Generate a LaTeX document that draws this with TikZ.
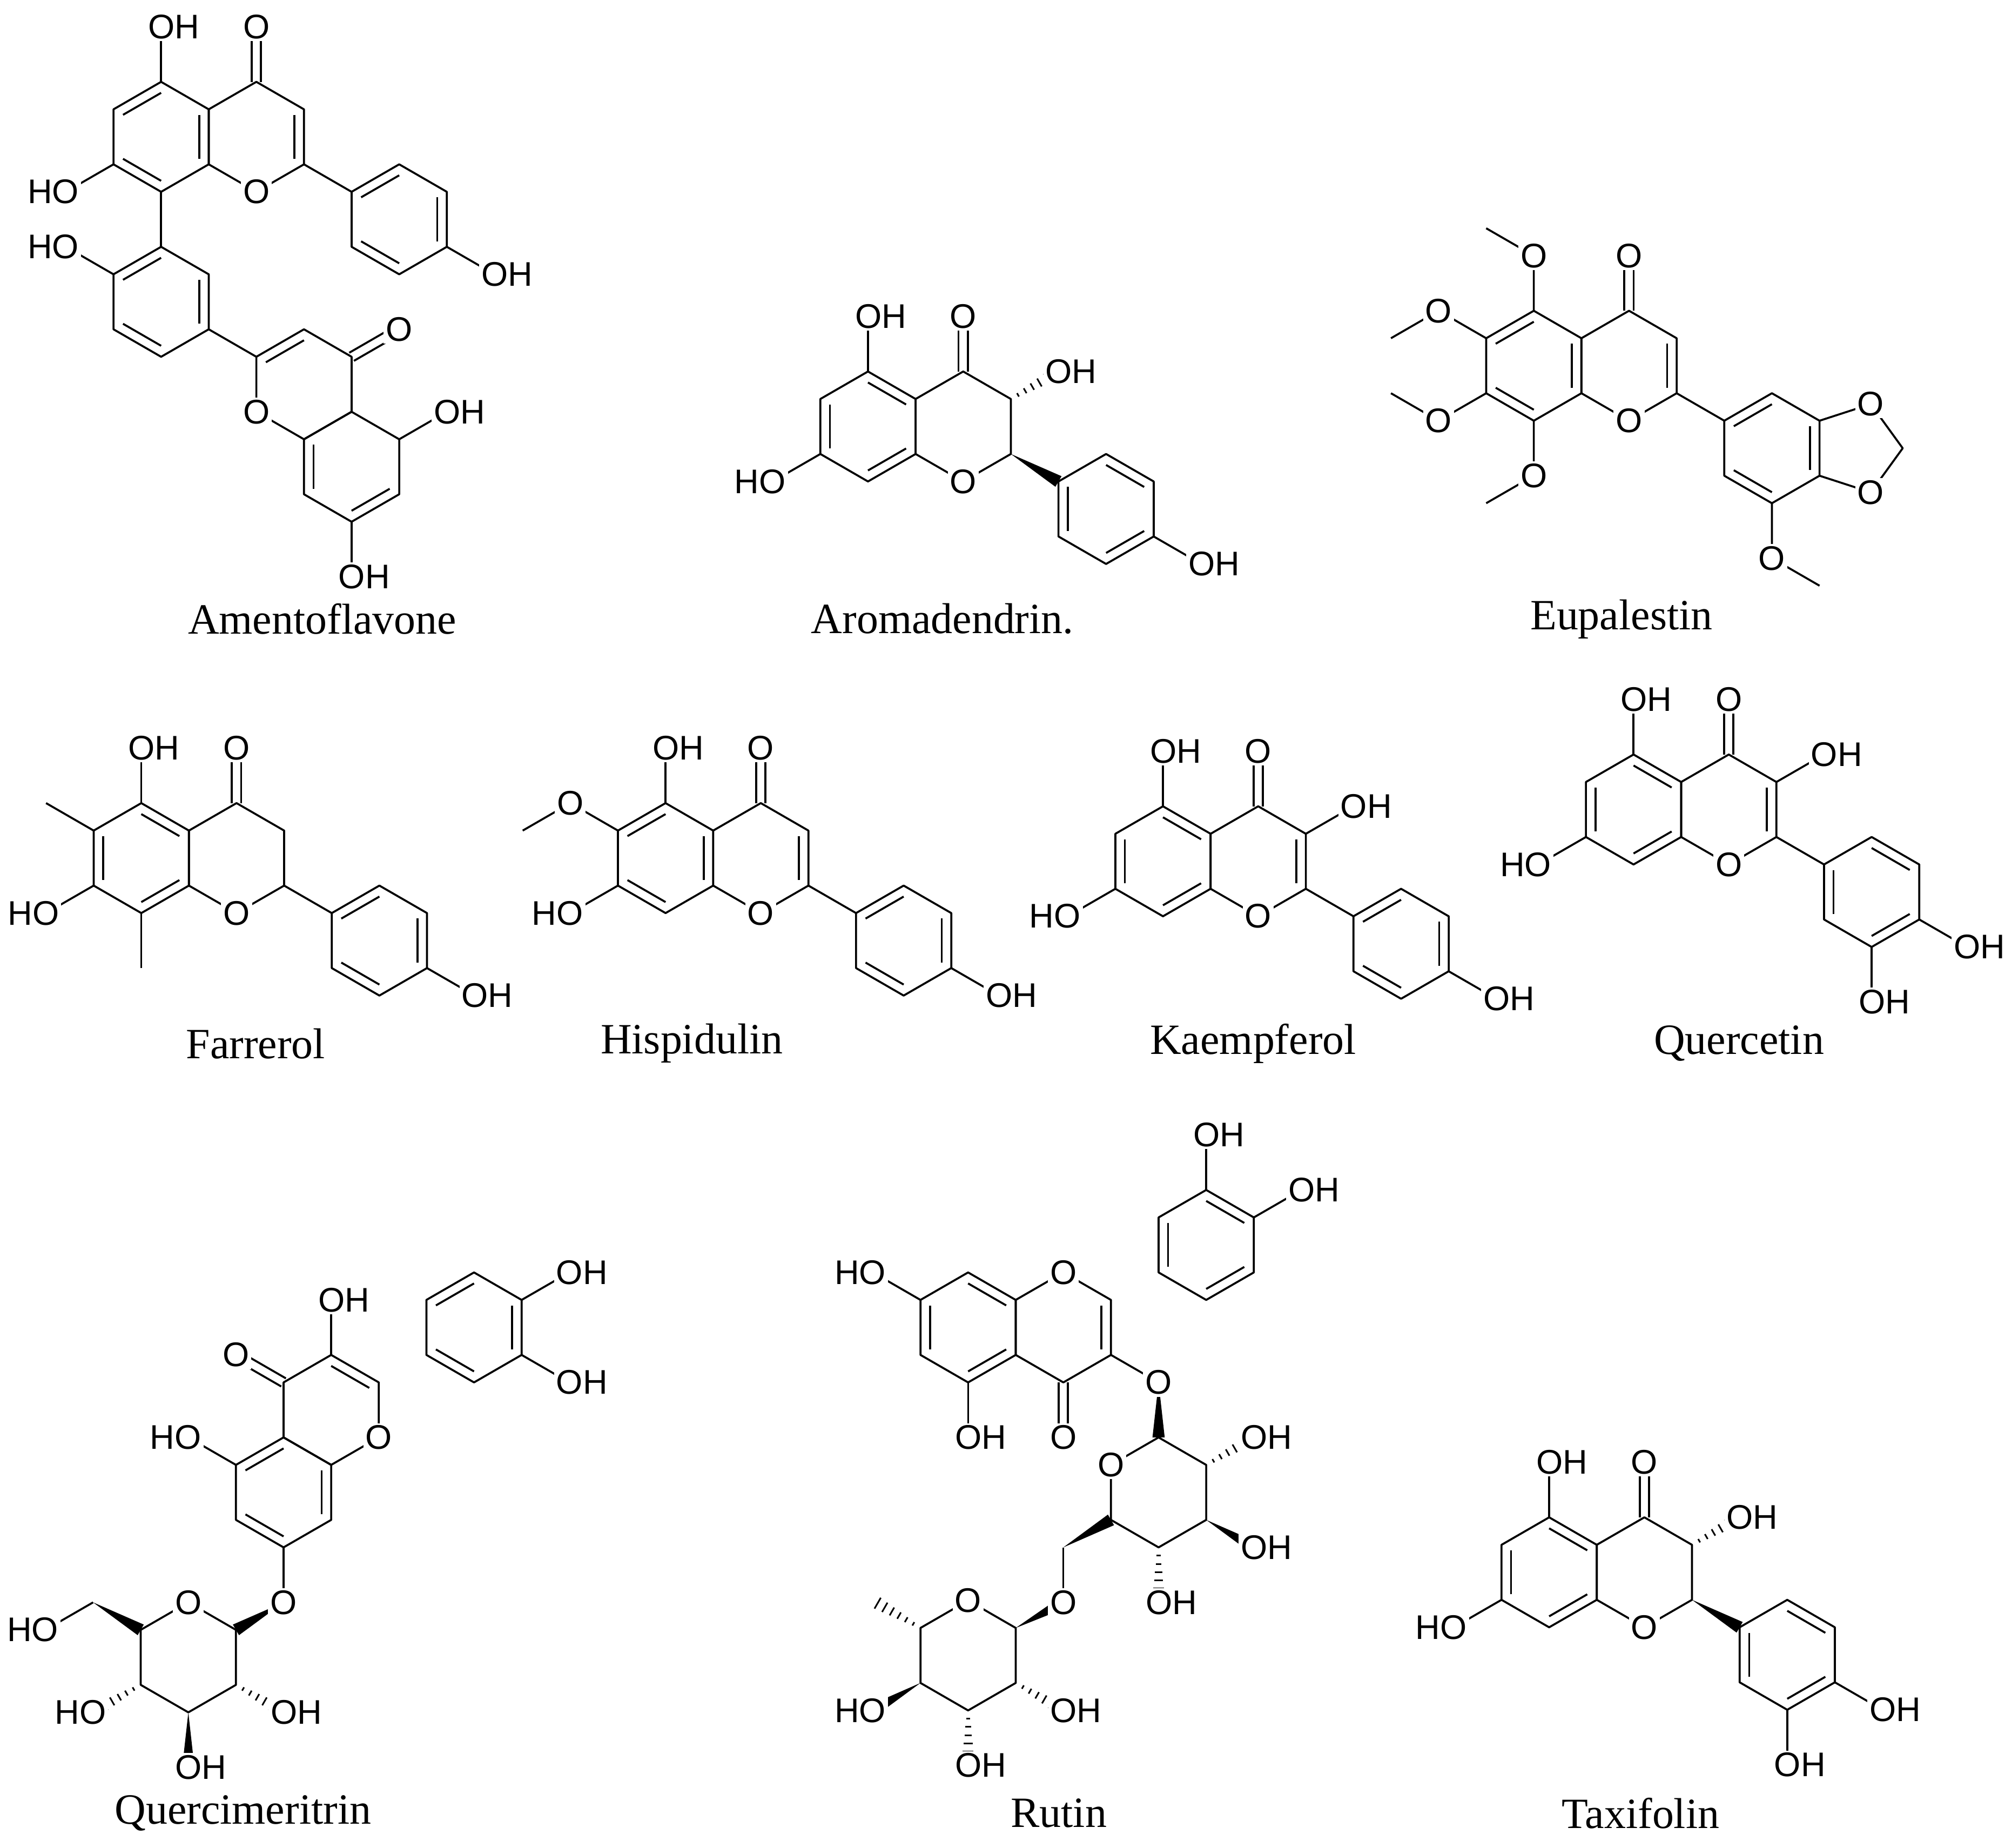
\documentclass[tikz,border=0pt]{standalone}
\usepackage{fontspec}
\setmainfont{Liberation Serif}
\newfontfamily\labfont{Liberation Sans}
\usetikzlibrary{calc}
\tikzset{
  bond/.style={line width=1.1pt, line join=round},
  hline/.style={line width=0.9pt},
  lab/.style={font={\labfont\fontsize{19pt}{22pt}\selectfont}, inner sep=1.2pt, fill=white},
  nm/.style={font={\fontsize{24pt}{28pt}\selectfont}, inner sep=0pt}
}
\newcommand{\ring}[3]{%
 \coordinate (#1c) at ({#2},{#3});
 \coordinate (#11) at ({#2},{#3-43});
 \coordinate (#12) at ({#2+37.24},{#3-21.5});
 \coordinate (#13) at ({#2+37.24},{#3+21.5});
 \coordinate (#14) at ({#2},{#3+43});
 \coordinate (#15) at ({#2-37.24},{#3+21.5});
 \coordinate (#16) at ({#2-37.24},{#3-21.5});
 \draw[bond] (#11)--(#12)--(#13)--(#14)--(#15)--(#16)--cycle;}
\newcommand{\dbs}[3]{\draw[bond] ($(#1#2)!0.2!(#1c)$) -- ($(#1#3)!0.2!(#1c)$);}
\newcommand{\dbx}[2]{\draw[bond] ($(#1)!2.6pt!90:(#2)$) -- ($(#2)!2.6pt!-90:(#1)$);
  \draw[bond] ($(#1)!2.6pt!-90:(#2)$) -- ($(#2)!2.6pt!90:(#1)$);}
\newcommand{\wdg}[2]{\fill (#1) -- ($(#2)!3.4pt!90:(#1)$) -- ($(#2)!3.4pt!-90:(#1)$) -- cycle;}
\newcommand{\hsh}[2]{\foreach \t in {0.15,0.3,0.45,0.6,0.75,0.9}{%
  \pgfmathsetlengthmacro{\hl}{(0.6+\t*3.2)*1pt}%
  \coordinate (hP) at ($(#1)!\t!(#2)$);
  \draw[hline] ($(hP)!\hl!90:(#2)$) -- ($(hP)!\hl!-90:(#2)$);}}
\newcommand{\Oat}[1]{\node[lab] at (#1) {O};}
\newcommand{\OH}[1]{\node[lab,anchor=west,xshift=-8.6pt] at (#1) {OH};}
\newcommand{\HO}[1]{\node[lab,anchor=east,xshift=8.6pt] at (#1) {HO};}
\begin{document}
\begin{tikzpicture}[x=0.025cm,y=-0.025cm]
\useasboundingbox (0,0) rectangle (1568,1445);
\fill[white] (0,0) rectangle (1568,1445);

% ---------- Amentoflavone ----------
\ring{aA}{126}{107}
\ring{aC}{200.48}{107}
\ring{aB}{312.2}{171.5}
\ring{aD}{126}{236}
\ring{aE}{237.72}{300.5}
\ring{aF}{274.96}{365}
\dbs{aA}{1}{6}\dbs{aA}{4}{5}\dbs{aA}{2}{3}
\dbs{aC}{2}{3}
\dbs{aB}{6}{1}\dbs{aB}{2}{3}\dbs{aB}{4}{5}
\dbs{aD}{1}{6}\dbs{aD}{2}{3}\dbs{aD}{4}{5}
\dbs{aE}{6}{1}
\dbs{aF}{5}{6}\dbs{aF}{3}{4}
\draw[bond] (aA1)--++(0,-43) coordinate (aO5);
\draw[bond] (aA5)--++(-37.24,21.5) coordinate (aO7);
\path (aC1)++(0,-43) coordinate (aOc); \dbx{aC1}{aOc}
\draw[bond] (aC3)--(aB6);
\draw[bond] (aB3)--++(37.24,21.5) coordinate (aO4p);
\draw[bond] (aA4)--(aD1);
\draw[bond] (aD6)--++(-37.24,-21.5) coordinate (aO2p);
\draw[bond] (aD3)--(aE6);
\path (aE2)++(37.24,-21.5) coordinate (aOc2); \dbx{aE2}{aOc2}
\draw[bond] (aF2)--++(37.24,-21.5) coordinate (aO5b);
\draw[bond] (aF4)--++(0,43) coordinate (aO7b);
\OH{aO5}\Oat{aOc}\Oat{aC4}\HO{aO7}\OH{aO4p}\HO{aO2p}\Oat{aOc2}\Oat{aE5}\OH{aO5b}\OH{aO7b}
\node[nm] (nAm) at (252,484) {Amentoflavone};

% ---------- Aromadendrin ----------
\ring{rA}{678.8}{333.5}
\ring{rC}{753.28}{333.5}
\ring{rB}{865}{398}
\dbs{rA}{1}{2}\dbs{rA}{3}{4}\dbs{rA}{5}{6}
\dbs{rB}{1}{2}\dbs{rB}{5}{6}\dbs{rB}{3}{4}
\draw[bond] (rA1)--++(0,-43) coordinate (rO5);
\draw[bond] (rA5)--++(-37.24,21.5) coordinate (rO7);
\path (rC1)++(0,-43) coordinate (rOc); \dbx{rC1}{rOc}
\path (rC2)++(37.24,-21.5) coordinate (rO3); \hsh{rC2}{rO3}
\wdg{rC3}{rB6}
\draw[bond] (rB3)--++(37.24,21.5) coordinate (rO4);
\OH{rO5}\HO{rO7}\Oat{rOc}\OH{rO3}\Oat{rC4}\OH{rO4}
\node[nm] (nAr) at (737,484) {Aromadendrin.};

% ---------- Eupalestin ----------
\ring{eA}{1199.5}{286}
\ring{eC}{1273.98}{286}
\ring{eB}{1385.7}{350.5}
\dbs{eA}{1}{6}\dbs{eA}{4}{5}\dbs{eA}{2}{3}
\dbs{eC}{2}{3}
\dbs{eB}{6}{1}\dbs{eB}{2}{3}\dbs{eB}{4}{5}
\draw[bond] (eA1)--++(0,-43) coordinate (eOa)--++(-37.24,-21.5);
\draw[bond] (eA6)--++(-37.24,-21.5) coordinate (eOb)--++(-37.24,21.5);
\draw[bond] (eA5)--++(-37.24,21.5) coordinate (eOc)--++(-37.24,-21.5);
\draw[bond] (eA4)--++(0,43) coordinate (eOd)--++(-37.24,21.5);
\path (eC1)++(0,-43) coordinate (eOk); \dbx{eC1}{eOk}
\draw[bond] (eC3)--(eB6);
\coordinate (eOx) at (1463,316);
\coordinate (eOy) at (1463,385);
\coordinate (eCH) at (1488,350.5);
\draw[bond] (eB2)--(eOx)--(eCH)--(eOy)--(eB3);
\draw[bond] (eB4)--++(0,43) coordinate (eOz)--++(37.24,21.5);
\Oat{eOa}\Oat{eOb}\Oat{eOc}\Oat{eOd}\Oat{eOk}\Oat{eC4}\Oat{eOx}\Oat{eOy}\Oat{eOz}
\node[nm] (nEu) at (1268,484) {Eupalestin};

% ---------- Farrerol ----------
\ring{fA}{110.5}{671}
\ring{fC}{184.98}{671}
\ring{fB}{296.7}{735.5}
\dbs{fA}{1}{2}\dbs{fA}{3}{4}\dbs{fA}{5}{6}
\dbs{fB}{6}{1}\dbs{fB}{2}{3}\dbs{fB}{4}{5}
\draw[bond] (fA1)--++(0,-43) coordinate (fO5);
\draw[bond] (fA6)--++(-37.24,-21.5);
\draw[bond] (fA5)--++(-37.24,21.5) coordinate (fO7);
\draw[bond] (fA4)--++(0,43);
\path (fC1)++(0,-43) coordinate (fOc); \dbx{fC1}{fOc}
\draw[bond] (fC3)--(fB6);
\draw[bond] (fB3)--++(37.24,21.5) coordinate (fO4);
\OH{fO5}\HO{fO7}\Oat{fOc}\Oat{fC4}\OH{fO4}
\node[nm] (nFa) at (200,816) {Farrerol};

% ---------- Hispidulin ----------
\ring{hA}{520.5}{671}
\ring{hC}{594.98}{671}
\ring{hB}{706.7}{735.5}
\dbs{hA}{1}{6}\dbs{hA}{2}{3}\dbs{hA}{4}{5}
\dbs{hC}{2}{3}
\dbs{hB}{6}{1}\dbs{hB}{2}{3}\dbs{hB}{4}{5}
\draw[bond] (hA1)--++(0,-43) coordinate (hO5);
\draw[bond] (hA6)--++(-37.24,-21.5) coordinate (hO6)--++(-37.24,21.5);
\draw[bond] (hA5)--++(-37.24,21.5) coordinate (hO7);
\path (hC1)++(0,-43) coordinate (hOc); \dbx{hC1}{hOc}
\draw[bond] (hC3)--(hB6);
\draw[bond] (hB3)--++(37.24,21.5) coordinate (hO4);
\OH{hO5}\Oat{hO6}\HO{hO7}\Oat{hOc}\Oat{hC4}\OH{hO4}
\node[nm] (nHi) at (541,816) {Hispidulin};

% ---------- Kaempferol ----------
\ring{kA}{909.5}{673.5}
\ring{kC}{983.98}{673.5}
\ring{kB}{1095.7}{738}
\dbs{kA}{1}{2}\dbs{kA}{3}{4}\dbs{kA}{5}{6}
\dbs{kC}{2}{3}
\dbs{kB}{6}{1}\dbs{kB}{2}{3}\dbs{kB}{4}{5}
\draw[bond] (kA1)--++(0,-43) coordinate (kO5);
\draw[bond] (kA5)--++(-37.24,21.5) coordinate (kO7);
\path (kC1)++(0,-43) coordinate (kOc); \dbx{kC1}{kOc}
\draw[bond] (kC2)--++(37.24,-21.5) coordinate (kO3);
\draw[bond] (kC3)--(kB6);
\draw[bond] (kB3)--++(37.24,21.5) coordinate (kO4);
\OH{kO5}\HO{kO7}\Oat{kOc}\OH{kO3}\Oat{kC4}\OH{kO4}
\node[nm] (nKa) at (980,816) {Kaempferol};

% ---------- Quercetin ----------
\ring{qA}{1277.5}{633}
\ring{qC}{1351.98}{633}
\ring{qB}{1463.7}{697.5}
\dbs{qA}{1}{2}\dbs{qA}{3}{4}\dbs{qA}{5}{6}
\dbs{qC}{2}{3}
\dbs{qB}{1}{2}\dbs{qB}{5}{6}\dbs{qB}{3}{4}
\draw[bond] (qA1)--++(0,-43) coordinate (qO5);
\draw[bond] (qA5)--++(-37.24,21.5) coordinate (qO7);
\path (qC1)++(0,-43) coordinate (qOc); \dbx{qC1}{qOc}
\draw[bond] (qC2)--++(37.24,-21.5) coordinate (qO3);
\draw[bond] (qC3)--(qB6);
\draw[bond] (qB3)--++(37.24,21.5) coordinate (qO4);
\draw[bond] (qB4)--++(0,43) coordinate (qO3p);
\OH{qO5}\HO{qO7}\Oat{qOc}\OH{qO3}\Oat{qC4}\OH{qO4}\OH{qO3p}
\node[nm] (nQu) at (1360,816) {Quercetin};

% ---------- Quercimeritrin ----------
\ring{mC}{259}{1102.5}
\ring{mA}{221.76}{1167}
\ring{mB}{370.7}{1038}
\dbs{mC}{1}{2}
\dbs{mA}{1}{6}\dbs{mA}{2}{3}\dbs{mA}{4}{5}
\dbs{mB}{6}{1}\dbs{mB}{2}{3}\dbs{mB}{4}{5}
\draw[bond] (mC1)--++(0,-43) coordinate (mO3);
\path (mC6)++(-37.24,-21.5) coordinate (mOc); \dbx{mC6}{mOc}
\draw[bond] (mA6)--++(-37.24,-21.5) coordinate (mO5);
\draw[bond] (mA4)--++(0,43) coordinate (mOg);
\draw[bond] (mB2)--++(37.24,-21.5) coordinate (mO4);
\draw[bond] (mB3)--++(37.24,21.5) coordinate (mO3p);
\ring{mG}{147.28}{1296}
\wdg{mOg}{mG2}
\path (mG3)++(37.24,21.5) coordinate (mG2O); \hsh{mG3}{mG2O}
\path (mG4)++(0,43) coordinate (mG3O); \wdg{mG4}{mG3O}
\path (mG5)++(-37.24,21.5) coordinate (mG4O); \hsh{mG5}{mG4O}
\path (mG6)++(-37.24,-21.5) coordinate (mCH); \wdg{mCH}{mG6}
\draw[bond] (mCH)--++(-37.24,21.5) coordinate (mG6O);
\OH{mO3}\Oat{mOc}\Oat{mC3}\HO{mO5}\Oat{mOg}\OH{mO4}\OH{mO3p}
\Oat{mG1}\OH{mG2O}\OH{mG3O}\HO{mG4O}\HO{mG6O}
\node[nm] (nQm) at (190,1418) {Quercimeritrin};

% ---------- Rutin ----------
\ring{uA}{757.1}{1038}
\ring{uC}{831.58}{1038}
\ring{uB}{943.3}{973.5}
\dbs{uA}{1}{2}\dbs{uA}{3}{4}\dbs{uA}{5}{6}
\dbs{uC}{2}{3}
\dbs{uB}{5}{6}\dbs{uB}{1}{2}\dbs{uB}{3}{4}
\draw[bond] (uB1)--++(0,-43) coordinate (uO3);
\draw[bond] (uB2)--++(37.24,-21.5) coordinate (uO4);
\draw[bond] (uA6)--++(-37.24,-21.5) coordinate (uO7);
\draw[bond] (uA4)--++(0,43) coordinate (uO5);
\path (uC4)++(0,43) coordinate (uOc); \dbx{uC4}{uOc}
\draw[bond] (uC3)--++(37.24,21.5) coordinate (uOg);
\ring{uG}{906.06}{1167}
\wdg{uOg}{uG1}
\path (uG2)++(37.24,-21.5) coordinate (uG2O); \hsh{uG2}{uG2O}
\path (uG3)++(37.24,21.5) coordinate (uG3O); \wdg{uG3}{uG3O}
\path (uG4)++(0,43) coordinate (uG4O); \hsh{uG4}{uG4O}
\path (uG5)++(-37.24,21.5) coordinate (uCH); \wdg{uCH}{uG5}
\draw[bond] (uCH)--++(0,43) coordinate (uOr);
\ring{uR}{757.1}{1294.5}
\wdg{uR2}{uOr}
\path (uR6)++(-37.24,-21.5) coordinate (uMe); \hsh{uR6}{uMe}
\path (uR5)++(-37.24,21.5) coordinate (uR4O); \wdg{uR5}{uR4O}
\path (uR4)++(0,43) coordinate (uR3O); \hsh{uR4}{uR3O}
\path (uR3)++(37.24,21.5) coordinate (uR2O); \hsh{uR3}{uR2O}
\OH{uO3}\OH{uO4}\HO{uO7}\OH{uO5}\Oat{uOc}\Oat{uOg}\Oat{uC1}
\Oat{uG6}\OH{uG2O}\OH{uG3O}\OH{uG4O}\Oat{uOr}
\Oat{uR1}\HO{uR4O}\OH{uR3O}\OH{uR2O}
\node[nm] (nRu) at (828,1418) {Rutin};

% ---------- Taxifolin ----------
\ring{tA}{1211.5}{1229.5}
\ring{tC}{1285.98}{1229.5}
\ring{tB}{1397.7}{1294}
\dbs{tA}{1}{2}\dbs{tA}{3}{4}\dbs{tA}{5}{6}
\dbs{tB}{1}{2}\dbs{tB}{5}{6}\dbs{tB}{3}{4}
\draw[bond] (tA1)--++(0,-43) coordinate (tO5);
\draw[bond] (tA5)--++(-37.24,21.5) coordinate (tO7);
\path (tC1)++(0,-43) coordinate (tOc); \dbx{tC1}{tOc}
\path (tC2)++(37.24,-21.5) coordinate (tO3); \hsh{tC2}{tO3}
\wdg{tC3}{tB6}
\draw[bond] (tB3)--++(37.24,21.5) coordinate (tO4);
\draw[bond] (tB4)--++(0,43) coordinate (tO3p);
\OH{tO5}\HO{tO7}\Oat{tOc}\OH{tO3}\Oat{tC4}\OH{tO4}\OH{tO3p}
\node[nm] (nTa) at (1283,1418) {Taxifolin};
\end{tikzpicture}
\end{document}
